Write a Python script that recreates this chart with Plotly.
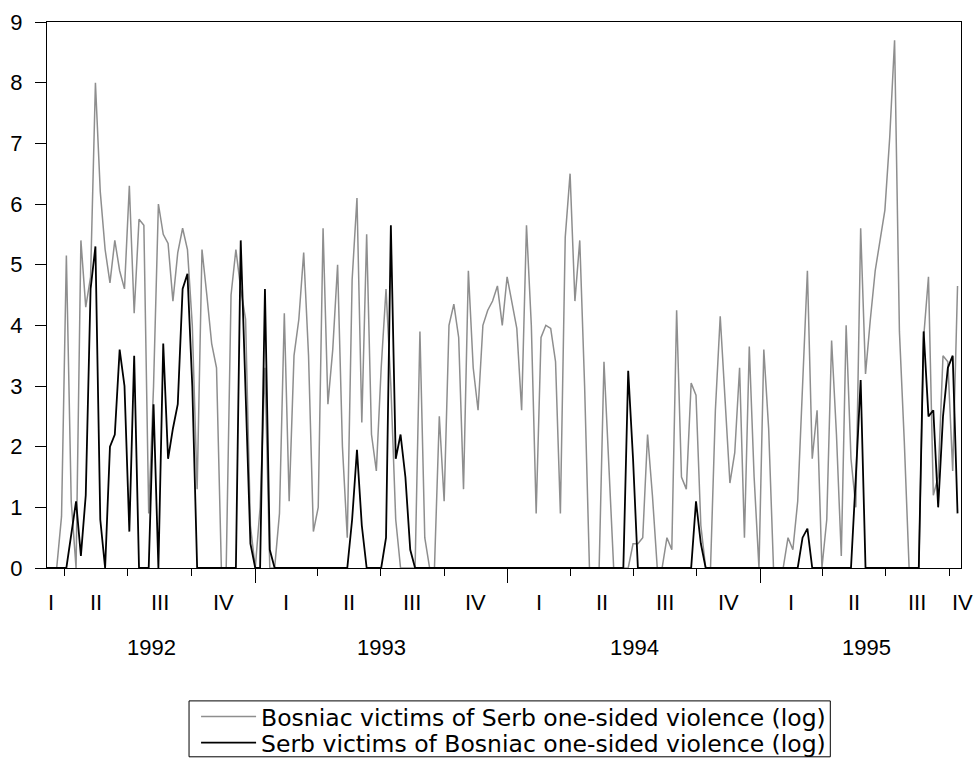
import pandas as pd
import plotly.graph_objects as go

# ---- data (weekly observations, log scale) ----
start_date = "1992-03-06"
end_date = "1995-10-18"

bosniac_victims = [
    0, 0, 0, 0.85, 5.15, 1.1, 0, 5.4, 4.3, 4.8,
    8.0, 6.2, 5.25, 4.7, 5.4, 4.9, 4.6, 6.3, 4.2, 5.75,
    5.65, 0.9, 3.0, 6.0, 5.5, 5.35, 4.4, 5.2, 5.6, 5.25,
    4.0, 1.3, 5.25, 4.5, 3.7, 3.3, 0, 0, 4.5, 5.25,
    4.6, 4.1, 0.7, 0, 1.0, 3.3, 0, 0, 0.9, 4.2,
    1.1, 3.5, 4.1, 5.2, 3.5, 0.6, 1.0, 5.6, 2.7, 3.6,
    5.0, 2.0, 0.5, 4.75, 6.1, 2.4, 5.5, 2.2, 1.6, 3.3,
    4.6, 3.0, 0.8, 0, 0, 0, 0, 3.9, 0.5, 0,
    0, 2.5, 1.1, 4.0, 4.35, 3.8, 1.3, 4.9, 3.3, 2.6,
    4.0, 4.25, 4.4, 4.65, 4.0, 4.8, 4.4, 3.95, 2.6, 5.65,
    4.0, 0.9, 3.8, 4.0, 3.95, 3.4, 0.9, 5.45, 6.5, 4.4,
    5.4, 3.0, 0, 0, 0, 3.4, 1.8, 0, 0, 0,
    0, 0.4, 0.4, 0.5, 2.2, 1.2, 0, 0, 0.5, 0.3,
    4.25, 1.5, 1.3, 3.05, 2.85, 0.7, 0, 0, 2.6, 4.15,
    2.75, 1.4, 1.9, 3.3, 0.5, 3.65, 1.5, 0, 3.6, 2.3,
    0, 0, 0, 0.5, 0.3, 1.1, 3.0, 4.9, 1.8, 2.6,
    0, 0.8, 3.75, 2.2, 0.2, 4.0, 1.8, 1.0, 5.6, 3.2,
    4.1, 4.9, 5.4, 5.9, 7.1, 8.7, 3.9, 2.1, 0, 0,
    0, 3.8, 4.8, 1.2, 1.5, 3.5, 3.4, 1.6, 4.65,
]

serb_victims = [
    0, 0, 0, 0, 0, 0.55, 1.1, 0.2, 1.2, 4.6,
    5.3, 0.8, 0, 2.0, 2.2, 3.6, 3.0, 0.6, 3.5, 0,
    0, 0, 2.7, 0, 3.7, 1.8, 2.3, 2.7, 4.6, 4.85,
    3.0, 0, 0, 0, 0, 0, 0, 0, 0, 0,
    5.4, 3.0, 0.4, 0, 0, 4.6, 0.3, 0, 0, 0,
    0, 0, 0, 0, 0, 0, 0, 0, 0, 0,
    0, 0, 0, 0.8, 1.95, 0.7, 0, 0, 0, 0,
    0.5, 5.65, 1.8, 2.2, 1.5, 0.3, 0, 0, 0, 0,
    0, 0, 0, 0, 0, 0, 0, 0, 0, 0,
    0, 0, 0, 0, 0, 0, 0, 0, 0, 0,
    0, 0, 0, 0, 0, 0, 0, 0, 0, 0,
    0, 0, 0, 0, 0, 0, 0, 0, 0, 0,
    3.25, 1.8, 0, 0, 0, 0, 0, 0, 0, 0,
    0, 0, 0, 0, 1.1, 0.4, 0, 0, 0, 0,
    0, 0, 0, 0, 0, 0, 0, 0, 0, 0,
    0, 0, 0, 0, 0, 0, 0.5, 0.65, 0, 0,
    0, 0, 0, 0, 0, 0, 0, 1.5, 3.1, 0,
    0, 0, 0, 0, 0, 0, 0, 0, 0, 0,
    0, 3.9, 2.5, 2.6, 1.0, 2.5, 3.3, 3.5, 0.9,
]

series_names = [
    "Bosniac victims of Serb one-sided violence (log)",
    "Serb victims of Bosniac one-sided violence (log)",
]
y_ticks = [0, 1, 2, 3, 4, 5, 6, 7, 8, 9]
years = [1992, 1993, 1994, 1995]
quarter_names = ["I", "II", "III", "IV"]

weeks = pd.date_range(start=start_date, periods=len(bosniac_victims), freq="7D")

fig = go.Figure()
fig.add_trace(go.Scatter(x=weeks, y=bosniac_victims, mode="lines",
                         name=series_names[0], legend="legend",
                         line=dict(color="#8e8e8e", width=1.5)))
fig.add_trace(go.Scatter(x=weeks, y=serb_victims, mode="lines",
                         name=series_names[1], legend="legend2",
                         line=dict(color="#000000", width=1.8)))

t0 = pd.Timestamp(start_date)
t1 = pd.Timestamp(end_date)

year_starts = [pd.Timestamp(f"{y}-01-01") for y in years[1:]]
quarter_ticks = []
annotations = []
label_font = dict(family="Liberation Sans, Arial, sans-serif", size=22, color="black")

for y in years:
    for qi, qn in enumerate(quarter_names):
        qs = pd.Timestamp(year=y, month=3 * qi + 1, day=1)
        qe = qs + pd.offsets.QuarterBegin(startingMonth=1)
        if qs > t0 and qs < t1 and qi > 0:
            quarter_ticks.append(qs)
        a = max(qs, t0)
        b = min(qe, t1)
        if b <= a:
            continue
        mid = a + (b - a) / 2
        shift = 0
        if qs < t0:
            shift = -5
        if qe > t1:
            shift = 7
        annotations.append(dict(x=mid, y=0, xref="x", yref="paper", text=qn,
                                showarrow=False, yshift=-34, xshift=shift,
                                yanchor="middle", font=label_font))
    ys = max(pd.Timestamp(f"{y}-01-01"), t0)
    ye = min(pd.Timestamp(f"{y + 1}-01-01"), t1)
    ymid = ys + (ye - ys) / 2
    annotations.append(dict(x=ymid, y=0, xref="x", yref="paper", text=str(y),
                            showarrow=False, yshift=-79,
                            xshift=6 if y == 1995 else 0,
                            yanchor="middle", font=label_font))

legend_font = dict(family="DejaVu Sans, sans-serif", size=23.5, color="black")
legend_common = dict(xanchor="left", yanchor="middle", borderwidth=0,
                     bgcolor="rgba(0,0,0,0)", font=legend_font, itemwidth=55)

fig.update_layout(
    width=978, height=763, autosize=False,
    margin=dict(l=47, r=17.3, t=21.5, b=195, pad=0, autoexpand=False),
    paper_bgcolor="white", plot_bgcolor="white",
    showlegend=True,
    legend=dict(x=0.1631, y=-0.2726, **legend_common),
    legend2=dict(x=0.1631, y=-0.3202, **legend_common),
    shapes=[dict(type="rect", xref="paper", yref="paper",
                 x0=0.1554, x1=0.857, y0=-0.3458, y1=-0.2434,
                 line=dict(color="black", width=1), fillcolor="rgba(0,0,0,0)")],
    annotations=annotations,
    xaxis=dict(type="date", range=[t0, t1], showgrid=False, zeroline=False,
               showline=True, linecolor="black", linewidth=1, mirror=True,
               tickmode="array", tickvals=year_starts, ticks="outside",
               ticklen=14, tickcolor="black", tickwidth=1,
               showticklabels=False,
               minor=dict(tickmode="array", tickvals=quarter_ticks,
                          ticks="outside", ticklen=7, tickcolor="black",
                          tickwidth=1, showgrid=False)),
    yaxis=dict(range=[0, 9], tickmode="array", tickvals=y_ticks,
               ticks="outside", ticklen=11, tickcolor="black", tickwidth=1,
               showgrid=False, zeroline=False, showline=True,
               linecolor="black", linewidth=1, mirror=True,
               tickfont=label_font, ticklabelstandoff=8),
)

fig.write_html("out.html", config={"displayModeBar": False},
               post_script="document.body.style.margin='0px';")
